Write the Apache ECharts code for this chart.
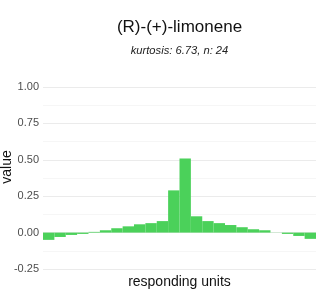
<!DOCTYPE html>
<html><head><meta charset="utf-8">
<script src="https://cdn.jsdelivr.net/npm/echarts@6/dist/echarts.min.js"></script>
<style>html,body{margin:0;padding:0;background:#fff}#c{width:320px;height:300px}</style>
</head><body><div id="c"></div>
<script>
const titleText = "(R)-(+)-limonene";
const subtitleText = "kurtosis: 6.73, n: 24";
const yAxisName = "value";
const xAxisName = "responding units";
const categories = Array.from({length:24}, (_, i) => "u" + (i + 1));
const values = [-0.050, -0.030, -0.016, -0.009, 0.005, 0.016, 0.030, 0.043, 0.057, 0.065, 0.079, 0.290,
                 0.509, 0.112, 0.079, 0.065, 0.052, 0.037, 0.023, 0.016, 0.001, -0.009, -0.023, -0.043];
const yTicks = [-0.25, 0.00, 0.25, 0.50, 0.75, 1.00];
const font = "'Liberation Sans', Arial, Helvetica, sans-serif";
const chart = echarts.init(document.getElementById('c'), null, {renderer: 'canvas'});
chart.setOption({
  animation: false,
  backgroundColor: '#fff',
  graphic: [
    {type: 'text', x: 179.5, y: 27, style: {text: titleText, fontFamily: font, fontSize: 17,
      fill: '#111', align: 'center', verticalAlign: 'middle'}},
    {type: 'text', x: 179.5, y: 51, style: {text: subtitleText, fontFamily: font, fontSize: 11.2,
      fontStyle: 'italic', fill: '#222', align: 'center', verticalAlign: 'middle'}},
    {type: 'text', x: 7, y: 167, rotation: Math.PI / 2, style: {text: yAxisName, fontFamily: font,
      fontSize: 14, fill: '#111', align: 'center', verticalAlign: 'middle'}}
  ],
  grid: {left: 43, right: 4, top: 87, bottom: 31, containLabel: false, outerBoundsMode: 'none'},
  xAxis: {
    type: 'category', data: categories, boundaryGap: true,
    name: xAxisName, nameLocation: 'middle', nameGap: 6,
    nameTextStyle: {fontFamily: font, fontSize: 14, color: '#111', verticalAlign: 'top'},
    axisLine: {show: false, onZero: false}, axisTick: {show: false}, axisLabel: {show: false},
    splitLine: {show: false}
  },
  yAxis: {
    type: 'value', min: yTicks[0], max: yTicks[yTicks.length - 1], interval: 0.25,
    axisLine: {show: false}, axisTick: {show: false},
    axisLabel: {fontFamily: font, fontSize: 11, color: '#4d4d4d', margin: 4,
      formatter: v => v.toFixed(2)},
    splitLine: {show: true, lineStyle: {color: '#ebebeb', width: 1}},
    minorTick: {show: false, splitNumber: 2},
    minorSplitLine: {show: true, lineStyle: {color: '#f6f6f6', width: 1}}
  },
  series: [{
    type: 'bar', data: values, barCategoryGap: '0%',
    itemStyle: {color: '#4bd15a'}
  }]
});
</script></body></html>
